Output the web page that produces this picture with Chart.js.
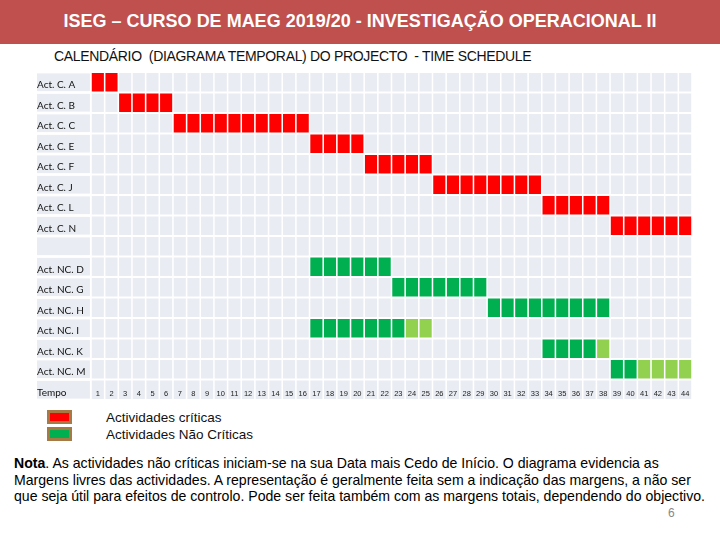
<!DOCTYPE html>
<html>
<head>
<meta charset="utf-8">
<script src="https://cdn.jsdelivr.net/npm/chart.js@4/dist/chart.umd.min.js"></script>
<style>
  html,body{margin:0;padding:0;background:#fff;}
  #page{position:relative;width:720px;height:540px;overflow:hidden;background:#fff;font-family:"Liberation Sans",Arial,sans-serif;}
  #hdr{position:absolute;left:0;top:0;width:720px;height:44px;background:#C0504D;color:#fff;font-weight:bold;font-size:18px;line-height:42px;text-align:center;white-space:nowrap;}
  #sub{position:absolute;left:54px;top:48px;font-size:14px;letter-spacing:-0.33px;color:#111;white-space:pre;}
  #wrap{position:absolute;left:0;top:72px;width:720px;height:328px;}
  .lg{position:absolute;left:47px;width:19px;height:8px;border:3px solid #A67A45;}
  .lt{position:absolute;left:106px;font-size:13.5px;color:#111;white-space:nowrap;}
  #note{position:absolute;left:14px;top:455px;font-size:14.1px;line-height:16.7px;color:#000;white-space:nowrap;}
  #pg{position:absolute;left:668px;top:506px;font-size:12px;color:#888;}
</style>
</head>
<body>
<div id="page">
  <div id="hdr">ISEG – CURSO DE MAEG 2019/20 - INVESTIGAÇÃO OPERACIONAL II</div>
  <div id="sub">CALENDÁRIO  (DIAGRAMA TEMPORAL) DO PROJECTO  - TIME SCHEDULE</div>
  <div id="wrap"><canvas id="c"></canvas></div>
  <div class="lg" style="top:410px;background:#FF0000;"></div>
  <div class="lg" style="top:427px;background:#00B050;"></div>
  <div class="lt" style="top:410px;">Actividades críticas</div>
  <div class="lt" style="top:427px;">Actividades Não Críticas</div>
  <div id="note"><b>Nota</b>. As actividades não críticas iniciam-se na sua Data mais Cedo de Início. O diagrama evidencia as<br>Margens livres das actividades. A representação é geralmente feita sem a indicação das margens, a não ser<br>que seja útil para efeitos de controlo. Pode ser feita também com as margens totais, dependendo do objectivo.</div>
  <div id="pg">6</div>
</div>
<script>
// ---- data ----
const rowLabels = ['Act. C. A','Act. C. B','Act. C. C','Act. C. E','Act. C. F','Act. C. J','Act. C. L','Act. C. N',' ','Act. NC. D','Act. NC. G','Act. NC. H','Act. NC. I','Act. NC. K','Act. NC. M','Tempo'];
const timeLabels = ['1','2','3','4','5','6','7','8','9','10','11','12','13','14','15','16','17','18','19','20','21','22','23','24','25','26','27','28','29','30','31','32','33','34','35','36','37','38','39','40','41','42','43','44'];
const critActs  = ['Act. C. A','Act. C. B','Act. C. C','Act. C. E','Act. C. F','Act. C. J','Act. C. L','Act. C. N'];
const critStart = [1, 3, 7, 17, 21, 26, 34, 39];
const critEnd   = [2, 6, 16, 20, 25, 33, 38, 44];
const ncActs    = ['Act. NC. D','Act. NC. G','Act. NC. H','Act. NC. I','Act. NC. K','Act. NC. M'];
const ncStart   = [17, 23, 30, 17, 34, 39];
const ncEnd     = [22, 29, 38, 23, 37, 40];
const ncSlackEnd= [22, 29, 38, 25, 38, 44];

// ---- build cells (one bar per time period) ----
function cells(acts, starts, ends){
  const out=[];
  acts.forEach((a,i)=>{ for(let t=starts[i]; t<=ends[i]; t++) out.push({x:[t-0.5,t+0.5], y:a}); });
  return out;
}
const bgCells=[];
rowLabels.forEach(r=>{ timeLabels.forEach((_,i)=>bgCells.push({x:[i+0.5,i+1.5], y:r})); });
const critCells = cells(critActs, critStart, critEnd);
const ncCells   = cells(ncActs, ncStart, ncEnd);
const slackCells= cells(ncActs, ncEnd.map(e=>e+1), ncSlackEnd);

const GRAY='#E9ECF2';
const bw={left:1.1,right:1.1,top:1.4,bottom:1.4};
function ds(data,color,order){
  return {data, backgroundColor:color, borderColor:'#FFFFFF', borderWidth:bw, borderSkipped:false,
          grouped:false, barPercentage:1, categoryPercentage:1, order};
}

const decor={
  id:'decor',
  beforeDatasetsDraw(chart){
    const ctx=chart.ctx, y=chart.scales.y, ca=chart.chartArea;
    const h=(ca.bottom-ca.top)/rowLabels.length;
    ctx.save();
    rowLabels.forEach((r,i)=>{
      const cy=y.getPixelForValue(i);
      ctx.fillStyle=GRAY;
      ctx.fillRect(37, cy-h/2+1.4, ca.left-1.1-37, h-2.8);
      ctx.fillStyle='#111'; ctx.font='10px Lato'; ctx.textAlign='left'; ctx.textBaseline='middle';
      ctx.fillText(r.trim(), 37, cy+3);
    });
    ctx.restore();
  },
  afterDatasetsDraw(chart){
    const ctx=chart.ctx, x=chart.scales.x, y=chart.scales.y;
    const cy=y.getPixelForValue(rowLabels.length-1)+4;
    ctx.save(); ctx.fillStyle='#222'; ctx.font='7.5px "Liberation Sans", Arial'; ctx.textAlign='center'; ctx.textBaseline='middle';
    timeLabels.forEach((t,i)=>ctx.fillText(t, x.getPixelForValue(i+1), cy));
    ctx.restore();
  }
};

new Chart(document.getElementById('c'),{
  type:'bar',
  data:{labels:rowLabels, datasets:[ds(critCells,'#FF0000',1), ds(ncCells,'#00B050',1), ds(slackCells,'#92D050',1), ds(bgCells,GRAY,5)]},
  options:{
    indexAxis:'y', responsive:true, maintainAspectRatio:false, animation:false,
    layout:{padding:{left:91,right:28,top:0,bottom:0}},
    plugins:{legend:{display:false}, tooltip:{enabled:false}},
    scales:{
      x:{type:'linear', min:0.5, max:44.5, display:false},
      y:{type:'category', offset:true, display:false}
    }
  },
  plugins:[decor]
});
</script>
</body>
</html>
